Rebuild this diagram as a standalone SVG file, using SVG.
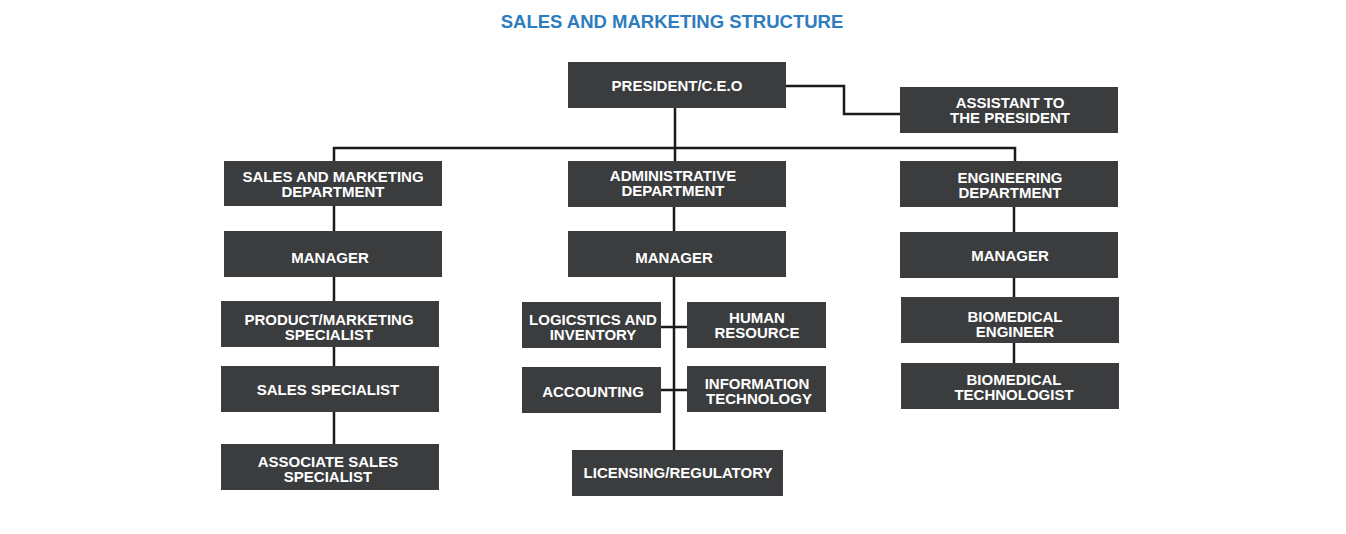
<svg xmlns="http://www.w3.org/2000/svg" width="1346" height="534" viewBox="0 0 1346 534">
<style>
.b{fill:#3b3c3e}
.t{fill:#fff;font-family:"Liberation Sans",Arial,sans-serif;font-weight:bold;font-size:15px;text-anchor:middle}
.c{stroke:#1a1a1a;stroke-width:2.5;fill:none}
</style>
<rect width="1346" height="534" fill="#fff"/>
<text x="672" y="28" style="fill:#2d7cc0;font-family:'Liberation Sans',Arial,sans-serif;font-weight:bold;font-size:18.5px;text-anchor:middle">SALES AND MARKETING STRUCTURE</text>
<g id="connectors" class="c">
<path d="M786 86H844V114H900"/>
<path d="M675 108V148M334 161V148H1015V161M675 148V161"/>
<path d="M334 206V444"/>
<path d="M674 207V450M661 327H687M661 390H687"/>
<path d="M1014 207V363"/>
</g>
<g id="president"><rect class="b" x="568" y="62" width="218" height="46"/><text class="t" x="677" y="91">PRESIDENT/C.E.O</text></g>
<g id="assistant"><rect class="b" x="900" y="87" width="218" height="46"/><text class="t" x="1010" y="108">ASSISTANT TO</text><text class="t" x="1010" y="123">THE PRESIDENT</text></g>
<g id="sales-dept"><rect class="b" x="224" y="161" width="218" height="45"/><text class="t" x="333" y="182">SALES AND MARKETING</text><text class="t" x="333" y="197">DEPARTMENT</text></g>
<g id="admin-dept"><rect class="b" x="568" y="161" width="218" height="46"/><text class="t" x="673" y="181">ADMINISTRATIVE</text><text class="t" x="673" y="196">DEPARTMENT</text></g>
<g id="eng-dept"><rect class="b" x="900" y="161" width="218" height="46"/><text class="t" x="1010" y="183">ENGINEERING</text><text class="t" x="1010" y="198">DEPARTMENT</text></g>
<g id="manager-s"><rect class="b" x="224" y="231" width="218" height="46"/><text class="t" x="330" y="263">MANAGER</text></g>
<g id="manager-a"><rect class="b" x="568" y="231" width="218" height="46"/><text class="t" x="674" y="263">MANAGER</text></g>
<g id="manager-e"><rect class="b" x="900" y="232" width="218" height="46"/><text class="t" x="1010" y="261">MANAGER</text></g>
<g id="product"><rect class="b" x="221" y="301" width="218" height="46"/><text class="t" x="329" y="325">PRODUCT/MARKETING</text><text class="t" x="329" y="340">SPECIALIST</text></g>
<g id="sales-spec"><rect class="b" x="221" y="366" width="218" height="46"/><text class="t" x="328" y="395">SALES SPECIALIST</text></g>
<g id="assoc"><rect class="b" x="221" y="444" width="218" height="46"/><text class="t" x="328" y="467">ASSOCIATE SALES</text><text class="t" x="328" y="482">SPECIALIST</text></g>
<g id="logistics"><rect class="b" x="522" y="302" width="139" height="46"/><text class="t" x="593" y="325">LOGICSTICS AND</text><text class="t" x="593" y="340">INVENTORY</text></g>
<g id="hr"><rect class="b" x="687" y="302" width="139" height="46"/><text class="t" x="757" y="323">HUMAN</text><text class="t" x="757" y="338">RESOURCE</text></g>
<g id="accounting"><rect class="b" x="522" y="367" width="139" height="46"/><text class="t" x="593" y="397">ACCOUNTING</text></g>
<g id="it"><rect class="b" x="687" y="366" width="139" height="46"/><text class="t" x="757" y="389">INFORMATION</text><text class="t" x="759" y="404">TECHNOLOGY</text></g>
<g id="licensing"><rect class="b" x="572" y="450" width="211" height="46"/><text class="t" x="678" y="478">LICENSING/REGULATORY</text></g>
<g id="biomed-eng"><rect class="b" x="901" y="297" width="218" height="46"/><text class="t" x="1015" y="322">BIOMEDICAL</text><text class="t" x="1015" y="337">ENGINEER</text></g>
<g id="biomed-tech"><rect class="b" x="901" y="363" width="218" height="46"/><text class="t" x="1014" y="385">BIOMEDICAL</text><text class="t" x="1014" y="400">TECHNOLOGIST</text></g>
</svg>
